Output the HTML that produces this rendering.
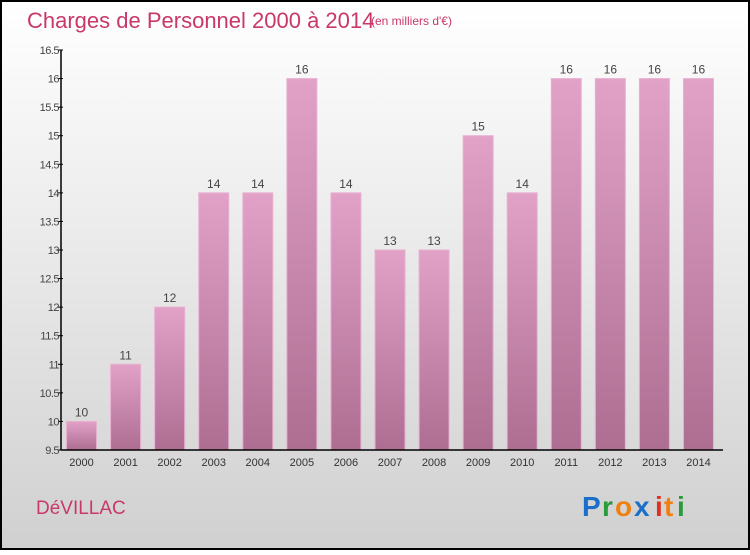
<!DOCTYPE html>
<html><head><meta charset="utf-8"><style>
html,body{margin:0;padding:0}
body{width:750px;height:550px;overflow:hidden;font-family:"Liberation Sans",sans-serif}
</style></head><body>
<svg width="750" height="550" xmlns="http://www.w3.org/2000/svg">
<defs>
<linearGradient id="bg" x1="0" y1="0" x2="0" y2="1"><stop offset="0" stop-color="#ffffff"/><stop offset="1" stop-color="#d0d0d0"/></linearGradient>
<linearGradient id="bar" x1="0" y1="0" x2="0" y2="1"><stop offset="0" stop-color="#e2a2c8"/><stop offset="1" stop-color="#ad6e92"/></linearGradient>
</defs>
<rect x="1" y="1" width="748" height="548" fill="url(#bg)" stroke="#000" stroke-width="2"/>
<text x="27" y="28" font-size="22" fill="#c8386a">Charges de Personnel 2000 à 2014</text>
<text x="371" y="25" font-size="12" fill="#c8386a">(en milliers d'€)</text>
<text x="36" y="514" font-size="19" fill="#c8386a">DéVILLAC</text>
<g font-size="28" font-weight="bold">
<text x="582" y="516" fill="#1a6fc8">P</text><text x="602" y="516" fill="#2a9a3a">r</text><text x="615" y="516" fill="#f08010">o</text><text x="634" y="516" fill="#1a6fc8">x</text><text x="655" y="516" fill="#e03020">i</text><text x="664" y="516" fill="#f08010">t</text><text x="677" y="516" fill="#2a9a3a">i</text>
</g>
<g id="plot"></g>
</svg>
<script>
const categories=["2000","2001","2002","2003","2004","2005","2006","2007","2008","2009","2010","2011","2012","2013","2014"];
const values=[10,11,12,14,14,16,14,13,13,15,14,16,16,16,16];
const yTicks=[9.5,10,10.5,11,11.5,12,12.5,13,13.5,14,14.5,15,15.5,16,16.5];
const yTickLabels=["9.5","10","10.5","11","11.5","12","12.5","13","13.5","14","14.5","15","15.5","16","16.5"];
const NS="http://www.w3.org/2000/svg";
const g=document.getElementById('plot');
const x0=61,x1=723,yTop=50,yBot=450,vMin=9.5,vMax=16.5;
const band=(x1-x0-1)/categories.length;
const y=v=>yBot-(v-vMin)/(vMax-vMin)*(yBot-yTop);
const xc=i=>x0+band*(i+0.5)-1.5;
function mk(t,a){const e=document.createElementNS(NS,t);for(const k in a)e.setAttribute(k,a[k]);g.appendChild(e);return e;}
values.forEach((v,i)=>{
 const r=mk('rect',{x:xc(i)-15,y:y(v),width:30,height:yBot-y(v),fill:'url(#bar)',stroke:'#e8b0d0','stroke-width':1});
 
 
 const t=mk('text',{x:xc(i),y:y(v)-5,'text-anchor':'middle','font-size':12,fill:'#444'});
 t.textContent=v;
 
 
 const c=mk('text',{x:xc(i),y:466,'text-anchor':'middle','font-size':11,fill:'#333'});
 c.textContent=categories[i];
 
 
});
yTicks.forEach((v,i)=>{
 const l=mk('line',{x1:x0-3,x2:x0+2,y1:y(v),y2:y(v),stroke:'#000'});
 
 
 const t=mk('text',{x:x0-2,y:y(v)+4,'text-anchor':'end','font-size':11,fill:'#444','letter-spacing':'-0.5'});
 t.textContent=yTickLabels[i];
 
 
});
const ya=mk('line',{x1:x0,x2:x0,y1:yTop,y2:yBot,stroke:'#000','stroke-width':1.5});


const xa=mk('line',{x1:x0,x2:x1,y1:yBot,y2:yBot,stroke:'#000','stroke-width':1.5});


</script>
</body></html>
